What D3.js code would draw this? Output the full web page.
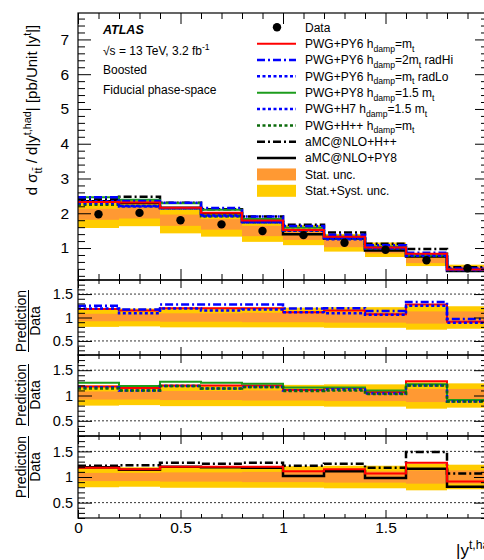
<!DOCTYPE html>
<html>
<head>
<meta charset="utf-8">
<script src="https://cdn.jsdelivr.net/npm/d3@7"></script>
<style>
  body { margin: 0; background: #fff; }
  svg { display: block; }
</style>
</head>
<body>
<div id="chart"></div>
<script>
// bins in |y^{t,had}|
const binEdges = [0, 0.2, 0.4, 0.6, 0.8, 1.0, 1.2, 1.4, 1.6, 1.8, 2.0];
// measured cross-section [pb / unit |y|]
const dataValues = [1.97, 2.01, 1.80, 1.68, 1.49, 1.37, 1.15, 0.95, 0.65, 0.42];
// relative uncertainties
const statUnc = [0.08, 0.08, 0.09, 0.09, 0.10, 0.10, 0.11, 0.11, 0.13, 0.13];
const totalUnc = [0.20, 0.19, 0.21, 0.21, 0.21, 0.21, 0.22, 0.22, 0.26, 0.24];

// prediction / data
const ratioPy6 = [1.18, 1.15, 1.20, 1.20, 1.20, 1.11, 1.15, 1.07, 1.28, 0.91];
const ratioRadHi = [1.25, 1.17, 1.28, 1.28, 1.28, 1.19, 1.20, 1.14, 1.33, 0.97];
const ratioRadLo = [1.19, 1.09, 1.19, 1.15, 1.17, 1.11, 1.09, 1.06, 1.25, 0.89];
const ratioPy8 = [1.25, 1.19, 1.27, 1.25, 1.23, 1.16, 1.16, 1.10, 1.22, 0.91];
const ratioH7 = [1.16, 1.10, 1.19, 1.14, 1.17, 1.10, 1.12, 1.04, 1.20, 0.88];
const ratioHpp = [1.14, 1.10, 1.19, 1.14, 1.17, 1.09, 1.10, 1.03, 1.20, 0.88];
const ratioAmcHpp = [1.22, 1.23, 1.28, 1.26, 1.28, 1.22, 1.26, 1.18, 1.49, 1.07];
const ratioAmcPy8 = [1.19, 1.14, 1.20, 1.19, 1.18, 1.02, 1.11, 0.98, 1.16, 0.81];

const xTicksMajor = [0, 0.5, 1, 1.5];
const yTicksTop = [1, 2, 3, 4, 5, 6, 7];
const yTicksRatio = [0.5, 1, 1.5];

const FONT = '"Liberation Sans", Arial, Helvetica, sans-serif';
const W = 484, H = 560;

const styles = {
  py6:    { color: '#ff0000', width: 2,   dash: null },
  radHi:  { color: '#0000ff', width: 2.5, dash: '8,3,2,3' },
  radLo:  { color: '#0000ff', width: 2.5, dash: '3,2.5' },
  py8:    { color: '#1c9c1c', width: 2,   dash: null },
  h7:     { color: '#0000ff', width: 2.5, dash: '3,2.5' },
  hpp:    { color: '#0b6b0b', width: 2.5, dash: '3,2.5' },
  amcHpp: { color: '#000000', width: 2.5, dash: '8,3,2,3' },
  amcPy8: { color: '#000000', width: 2.5, dash: null }
};
const colStat = '#ff9933', colTot = '#ffcc00';

const svg = d3.select('#chart').append('svg')
  .attr('width', W).attr('height', H)
  .attr('font-family', FONT);

const x = d3.scaleLinear().domain([0, 2]).range([78, 488]);

// panel layout: main plot plus three ratio pads
const panels = [
  { top: 13,  bottom: 280, y: d3.scaleLinear().domain([0.08, 7.76]).range([280, 13]) },
  { top: 280, bottom: 355, y: d3.scaleLinear().domain([0.2, 1.8]).range([355, 280]) },
  { top: 355, bottom: 436, y: d3.scaleLinear().domain([0.2, 1.8]).range([436, 355]) },
  { top: 436, bottom: 518, y: d3.scaleLinear().domain([0.2, 1.8]).range([518, 436]) }
];

// sub/superscript helper
function rich(sel, parts, size) {
  let shift = 0;
  parts.forEach(([t, k]) => {
    const target = k === 'sub' ? 0.3 * size : k === 'sup' ? -0.42 * size : 0;
    sel.append('tspan')
      .attr('dy', target - shift)
      .attr('font-size', k ? size * 0.72 : size)
      .text(t);
    shift = target;
  });
}

const bins = dataValues.map((v, i) => ({ lo: binEdges[i], hi: binEdges[i + 1], v, stat: statUnc[i], tot: totalUnc[i] }));

function drawBands(g, y, ratio) {
  const c = d => ratio ? 1 : d.v;
  g.append('g').selectAll('rect').data(bins).enter().append('rect')
    .attr('x', d => x(d.lo)).attr('width', d => x(d.hi) - x(d.lo))
    .attr('y', d => y(c(d) * (1 + d.tot)))
    .attr('height', d => y(c(d) * (1 - d.tot)) - y(c(d) * (1 + d.tot)))
    .attr('fill', colTot);
  g.append('g').selectAll('rect').data(bins).enter().append('rect')
    .attr('x', d => x(d.lo)).attr('width', d => x(d.hi) - x(d.lo))
    .attr('y', d => y(c(d) * (1 + d.stat)))
    .attr('height', d => y(c(d) * (1 - d.stat)) - y(c(d) * (1 + d.stat)))
    .attr('fill', colStat);
}

function drawHist(g, y, vals, st) {
  const pts = binEdges.map((e, i) => [e, vals[Math.min(i, vals.length - 1)]]);
  const line = d3.line().x(d => x(d[0])).y(d => y(d[1])).curve(d3.curveStepAfter);
  g.append('path').datum(pts)
    .attr('d', line)
    .attr('fill', 'none')
    .attr('stroke', st.color)
    .attr('stroke-width', st.width)
    .attr('stroke-dasharray', st.dash);
}

function drawAxes(p, opt) {
  const g = svg.append('g');
  const minorX = d3.range(0, 2.001, 0.1).map(v => +v.toFixed(1)).filter(v => !xTicksMajor.includes(v));
  const styleAxis = a => {
    a.select('.domain').remove();
    a.selectAll('line').attr('stroke', '#000');
    a.attr('font-family', FONT);
  };
  // x ticks bottom / top
  g.append('g').attr('transform', `translate(0,${p.bottom})`)
    .call(d3.axisBottom(x).tickValues(xTicksMajor).tickSize(-opt.xMaj).tickPadding(4)
      .tickFormat(opt.xLabels ? d3.format('') : ''))
    .call(styleAxis).attr('font-size', 15.5);
  g.append('g').attr('transform', `translate(0,${p.bottom})`)
    .call(d3.axisBottom(x).tickValues(minorX).tickSize(-opt.xMin).tickFormat(''))
    .call(styleAxis);
  g.append('g').attr('transform', `translate(0,${p.top})`)
    .call(d3.axisTop(x).tickValues(xTicksMajor).tickSize(-opt.xMaj).tickFormat(''))
    .call(styleAxis);
  g.append('g').attr('transform', `translate(0,${p.top})`)
    .call(d3.axisTop(x).tickValues(minorX).tickSize(-opt.xMin).tickFormat(''))
    .call(styleAxis);
  // y ticks left / right
  g.append('g').attr('transform', `translate(${x(0)},0)`)
    .call(d3.axisLeft(p.y).tickValues(opt.yMajor).tickSize(-opt.yMaj).tickPadding(opt.yPad).tickFormat(opt.yFmt))
    .call(styleAxis).attr('font-size', opt.yFont);
  g.append('g').attr('transform', `translate(${x(0)},0)`)
    .call(d3.axisLeft(p.y).tickValues(opt.yMinor).tickSize(-opt.yMin).tickFormat(''))
    .call(styleAxis);
  g.append('g').attr('transform', `translate(${x(2)},0)`)
    .call(d3.axisRight(p.y).tickValues(opt.yMajor).tickSize(-opt.yMaj).tickFormat(''))
    .call(styleAxis);
  g.append('g').attr('transform', `translate(${x(2)},0)`)
    .call(d3.axisRight(p.y).tickValues(opt.yMinor).tickSize(-opt.yMin).tickFormat(''))
    .call(styleAxis);
  g.selectAll('text').attr('fill', '#000');
  // frame
  g.append('rect')
    .attr('x', x(0)).attr('y', p.top)
    .attr('width', x(2) - x(0)).attr('height', p.bottom - p.top)
    .attr('fill', 'none').attr('stroke', '#000').attr('stroke-width', 1.2);
}

// ---------- main panel ----------
const main = panels[0];
const gMain = svg.append('g');
drawBands(gMain, main.y, false);

const topSeries = [
  [ratioAmcHpp, styles.amcHpp],
  [ratioAmcPy8, styles.amcPy8],
  [ratioHpp, styles.hpp],
  [ratioPy8, styles.py8],
  [ratioH7, styles.h7],
  [ratioRadLo, styles.radLo],
  [ratioRadHi, styles.radHi],
  [ratioPy6, styles.py6]
];
// prediction = (prediction/data) * data
topSeries.forEach(([r, st]) => drawHist(gMain, main.y, r.map((v, i) => v * dataValues[i]), st));

gMain.append('g').selectAll('circle').data(bins).enter().append('circle')
  .attr('cx', d => x((d.lo + d.hi) / 2))
  .attr('cy', d => main.y(d.v))
  .attr('r', 4.2)
  .attr('fill', '#000');

const yMinorTop = d3.range(0.2, 7.7, 0.2).map(v => +v.toFixed(1)).filter(v => !yTicksTop.includes(v));
drawAxes(main, {
  xMaj: 11, xMin: 6, yMaj: 13, yMin: 7,
  yMajor: yTicksTop, yMinor: yMinorTop, yFmt: d3.format('d'), yFont: 15.5, yPad: 9, xLabels: false
});

// ---------- ratio panels ----------
const ratioSets = [
  [[ratioPy6, styles.py6], [ratioRadLo, styles.radLo], [ratioRadHi, styles.radHi]],
  [[ratioPy6, styles.py6], [ratioPy8, styles.py8], [ratioH7, styles.h7], [ratioHpp, styles.hpp]],
  [[ratioAmcHpp, styles.amcHpp], [ratioAmcPy8, styles.amcPy8], [ratioPy6, styles.py6]]
];
const yMinorRatio = d3.range(0.2, 1.81, 0.1).map(v => +v.toFixed(1)).filter(v => !yTicksRatio.includes(v));
const ratioTitleY = [321, 395, 467];

ratioSets.forEach((set, k) => {
  const p = panels[k + 1];
  const g = svg.append('g');
  drawBands(g, p.y, true);
  // dotted reference lines
  g.append('g').selectAll('line').data([0.5, 1.5]).enter().append('line')
    .attr('x1', x(0)).attr('x2', x(2))
    .attr('y1', d => p.y(d)).attr('y2', d => p.y(d))
    .attr('stroke', '#000').attr('stroke-width', 0.8).attr('stroke-dasharray', '2,2');
  set.forEach(([r, st]) => drawHist(g, p.y, r, st));
  drawAxes(p, {
    xMaj: 8, xMin: 4, yMaj: 14, yMin: 7,
    yMajor: yTicksRatio, yMinor: yMinorRatio, yFmt: d => d === 1 ? '1' : d, yFont: 14.5, yPad: 5,
    xLabels: k === 2
  });
  // Prediction / Data title
  const cy = ratioTitleY[k];
  const t = svg.append('g').attr('transform', `translate(0,${cy}) rotate(-90)`);
  t.append('text').attr('x', 0).attr('y', 26).attr('text-anchor', 'middle')
    .attr('font-size', 14).text('Prediction');
  t.append('line').attr('x1', -31).attr('x2', 31).attr('y1', 28.5).attr('y2', 28.5)
    .attr('stroke', '#000').attr('stroke-width', 1);
  t.append('text').attr('x', 0).attr('y', 40).attr('text-anchor', 'middle')
    .attr('font-size', 14).text('Data');
});

// ---------- titles ----------
const yTitle = svg.append('text')
  .attr('transform', 'translate(37,110) rotate(-90)')
  .attr('text-anchor', 'middle');
rich(yTitle, [['d σ'], ['tt\u0304', 'sub'], [' / d|y'], ['t,had', 'sup'], ['| [pb/Unit |y'], ['t', 'sup'], ['|]']], 15);

const xTitle = svg.append('text').attr('x', 456).attr('y', 556);
rich(xTitle, [['|y'], ['t,had', 'sup'], ['|']], 17);

// ATLAS label block
svg.append('text').attr('x', 103).attr('y', 33.5)
  .attr('font-size', 12.5).attr('font-weight', 'bold').attr('font-style', 'italic').text('ATLAS');
const lumi = svg.append('text').attr('x', 103).attr('y', 55);
rich(lumi, [['√s = 13 TeV, 3.2 fb'], ['-1', 'sup']], 12);
svg.append('text').attr('x', 103).attr('y', 74).attr('font-size', 12).text('Boosted');
svg.append('text').attr('x', 103).attr('y', 93.5).attr('font-size', 12).text('Fiducial phase-space');

// ---------- legend ----------
const legendRows = [
  { parts: [['Data']], kind: 'marker' },
  { parts: [['PWG+PY6 h'], ['damp', 'sub'], ['=m'], ['t', 'sub']], st: styles.py6 },
  { parts: [['PWG+PY6 h'], ['damp', 'sub'], ['=2m'], ['t', 'sub'], [' radHi']], st: styles.radHi },
  { parts: [['PWG+PY6 h'], ['damp', 'sub'], ['=m'], ['t', 'sub'], [' radLo']], st: styles.radLo },
  { parts: [['PWG+PY8 h'], ['damp', 'sub'], ['=1.5 m'], ['t', 'sub']], st: styles.py8 },
  { parts: [['PWG+H7 h'], ['damp', 'sub'], ['=1.5 m'], ['t', 'sub']], st: styles.h7 },
  { parts: [['PWG+H++ h'], ['damp', 'sub'], ['=m'], ['t', 'sub']], st: styles.hpp },
  { parts: [['aMC@NLO+H++']], st: styles.amcHpp },
  { parts: [['aMC@NLO+PY8']], st: styles.amcPy8 },
  { parts: [['Stat. unc.']], kind: 'box', fill: colStat },
  { parts: [['Stat.+Syst. unc.']], kind: 'box', fill: colTot }
];
const leg = svg.append('g');
legendRows.forEach((row, i) => {
  const cy = 27.3 + i * 16.35;
  if (row.kind === 'marker') {
    leg.append('circle').attr('cx', 277).attr('cy', cy).attr('r', 4.2).attr('fill', '#000');
  } else if (row.kind === 'box') {
    leg.append('rect').attr('x', 257).attr('y', cy - 6).attr('width', 39).attr('height', 12).attr('fill', row.fill);
  } else {
    leg.append('line').attr('x1', 257).attr('x2', 296).attr('y1', cy).attr('y2', cy)
      .attr('stroke', row.st.color).attr('stroke-width', row.st.width).attr('stroke-dasharray', row.st.dash);
  }
  const t = leg.append('text').attr('x', 305).attr('y', cy + 4.3);
  rich(t, row.parts, 12);
});
</script>
</body>
</html>
